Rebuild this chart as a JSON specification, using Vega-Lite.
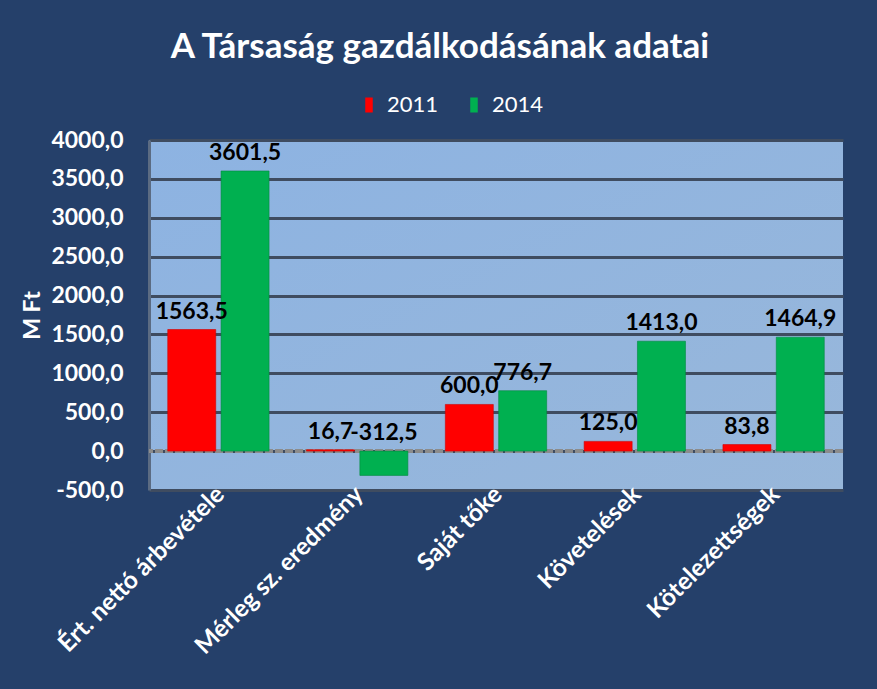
{
  "$schema": "https://vega.github.io/schema/vega-lite/v6.json",
  "autosize": {"type": "none"},
  "width": 694,
  "height": 350,
  "padding": {"left": 149, "top": 140, "right": 34, "bottom": 199},
  "background": "#25406a",
  "config": {
    "locale": {"number": {"decimal": ",", "thousands": "", "grouping": [3], "currency": ["", " Ft"], "minus": "-"}},
    "font": "Lato",
    "axis": {"labelOverlap": false},
    "view": {
      "fill": {"gradient": "linear", "x1": 0, "y1": 0, "x2": 1, "y2": 1, "stops": [{"offset": 0, "color": "#8db3e2"}, {"offset": 1, "color": "#98b7da"}]},
      "stroke": null
    }
  },
  "title": {
    "text": "A Társaság gazdálkodásának adatai",
    "color": "white",
    "fontSize": 35,
    "fontWeight": "bold",
    "font": "Lato",
    "anchor": "middle",
    "dx": -56,
    "offset": 25
  },
  "data": {
    "values": [
      {"cat": "Ért. nettó árbevétele", "year": "2011", "value": 1563.5},
      {"cat": "Ért. nettó árbevétele", "year": "2014", "value": 3601.5},
      {"cat": "Mérleg sz. eredmény", "year": "2011", "value": 16.7},
      {"cat": "Mérleg sz. eredmény", "year": "2014", "value": -312.5},
      {"cat": "Saját tőke", "year": "2011", "value": 600.0},
      {"cat": "Saját tőke", "year": "2014", "value": 776.7},
      {"cat": "Követelések", "year": "2011", "value": 125.0},
      {"cat": "Követelések", "year": "2014", "value": 1413.0},
      {"cat": "Kötelezettségek", "year": "2011", "value": 83.8},
      {"cat": "Kötelezettségek", "year": "2014", "value": 1464.9}
    ]
  },
  "layer": [
    {
      "mark": {"type": "rule", "color": "#8c8c8c", "strokeWidth": 4, "strokeDash": [8, 2]},
      "encoding": {"y": {"datum": 0, "type": "quantitative", "scale": {"domain": [-500, 4000], "nice": false}}}
    },
    {
      "mark": {"type": "bar", "strokeWidth": 0.6},
      "encoding": {
        "x": {
          "field": "cat",
          "type": "nominal",
          "sort": null,
          "scale": {"paddingInner": 0.27, "paddingOuter": 0.135},
          "axis": {
            "title": null,
            "domain": false,
            "ticks": false,
            "labelAngle": -45,
            "labelColor": "white",
            "labelFontSize": 24.5,
            "labelFontWeight": "bold",
            "labelFont": "Lato",
            "labelPadding": -8,
            "labelOffset": -6,
            "labelLimit": 400
          }
        },
        "xOffset": {"field": "year", "type": "nominal", "scale": {"paddingInner": 0.1}},
        "y": {
          "field": "value",
          "type": "quantitative",
          "scale": {"domain": [-500, 4000], "nice": false},
          "axis": {
            "values": [-500, 0, 500, 1000, 1500, 2000, 2500, 3000, 3500, 4000],
            "tickCount": 10,
            "format": ".1f",
            "labelOverlap": false,
            "title": "M Ft",
            "titleColor": "white",
            "titleFontSize": 23,
            "titleFontWeight": "bold",
            "titleFont": "Lato",
            "titlePadding": 6,
            "domain": true,
            "domainColor": "#5b6b82",
            "domainWidth": 3,
            "ticks": false,
            "grid": true,
            "gridColor": "#3f4c60",
            "gridWidth": 3,
            "gridOpacity": 1,
            "labelColor": "white",
            "labelFontSize": 23,
            "labelFontWeight": "bold",
            "labelFont": "Lato",
            "labelPadding": 26
          }
        },
        "color": {
          "field": "year",
          "type": "nominal",
          "scale": {"domain": ["2011", "2014"], "range": ["#ff0000", "#00b050"]},
          "legend": {
            "title": null,
            "orient": "none",
            "legendX": 205,
            "legendY": -50,
            "direction": "horizontal",
            "symbolType": "M-0.25,-0.5H0.25V0.5H-0.25Z",
            "symbolSize": 900,
            "symbolStrokeWidth": 0,
            "labelColor": "white",
            "labelFontSize": 22,
            "labelFont": "Lato",
            "labelOffset": 3,
            "columnPadding": 20,
            "padding": 0
          }
        },
        "stroke": {
          "field": "year",
          "type": "nominal",
          "scale": {"domain": ["2011", "2014"], "range": ["#d00000", "#008a3e"]},
          "legend": null
        }
      }
    },
    {
      "transform": [{"calculate": "max(datum.value, 0)", "as": "ly"}],
      "mark": {"type": "text", "fontWeight": "bold", "fontSize": 23, "font": "Lato", "color": "black", "baseline": "middle", "dy": -18},
      "encoding": {
        "x": {"field": "cat", "type": "nominal", "sort": null},
        "xOffset": {"field": "year", "type": "nominal"},
        "y": {"field": "ly", "type": "quantitative"},
        "text": {"field": "value", "type": "quantitative", "format": ".1f"}
      }
    }
  ]
}
